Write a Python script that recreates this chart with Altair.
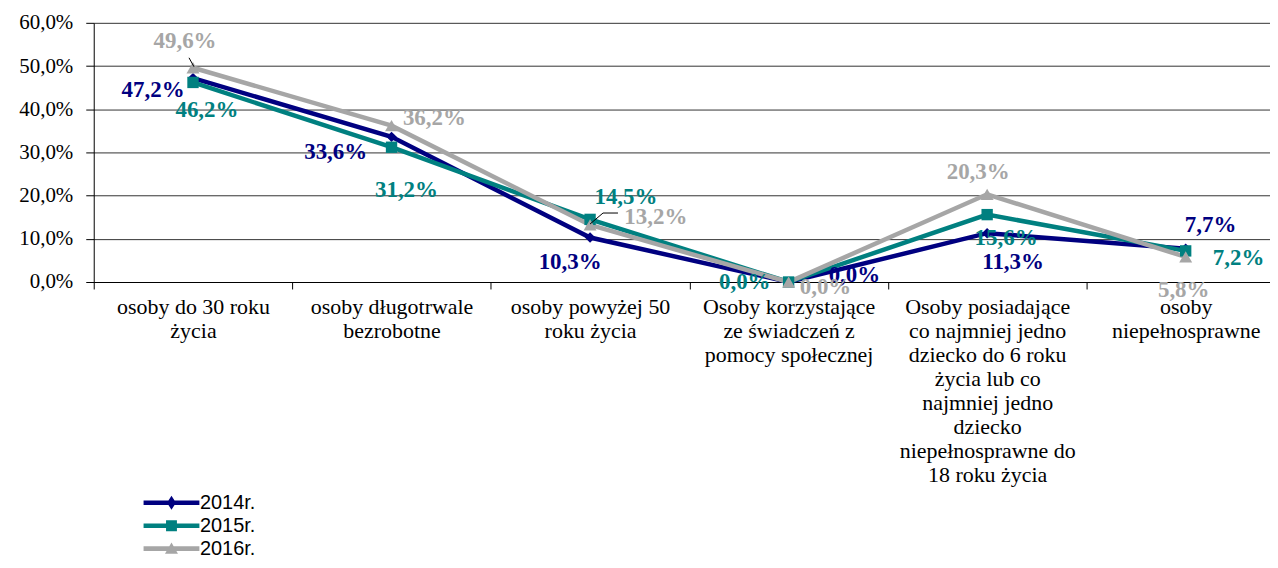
import json
import altair as alt
import pandas as pd

# ---------------- data ----------------
category_lines = [
    ["osoby do 30 roku", "życia"],
    ["osoby długotrwale", "bezrobotne"],
    ["osoby powyżej 50", "roku życia"],
    ["Osoby korzystające", "ze świadczeń z", "pomocy społecznej"],
    ["Osoby posiadające", "co najmniej jedno", "dziecko do 6 roku", "życia lub co",
     "najmniej jedno", "dziecko", "niepełnosprawne do", "18 roku życia"],
    ["osoby", "niepełnosprawne"],
]
categories = [" ".join(lines) for lines in category_lines]
series_names = ["2014r.", "2015r.", "2016r."]
values_2014 = [47.2, 33.6, 10.3, 0.0, 11.3, 7.7]
values_2015 = [46.2, 31.2, 14.5, 0.0, 15.6, 7.2]
values_2016 = [49.6, 36.2, 13.2, 0.0, 20.3, 5.8]
y_ticks = [0, 10, 20, 30, 40, 50, 60]

# ---------------- styles ----------------
colors = ["#000080", "#008080", "#A6A6A6"]
marker_shapes = ["diamond", "square", "triangle-up"]
marker_sizes = [110, 130, 170]

# label offsets (dx, dy) in pixels per series / category
label_offsets = {
    "2014r.": [(-40, 12), (-56, 15), (-20, 25), (66, -7), (26, 29), (25, -24)],
    "2015r.": [(14, 28), (15, 43), (36, -22), (-44, 0), (19, 23), (53, 7)],
    "2016r.": [(-8, -27), (43, -8), (66, -8), (37, 5), (-9, -22), (-2, 33)],
}
# leader lines: (series, category index, xOffset, yOffset, x2Offset, y2Offset)
leaders = [
    ("2016r.", 0, -4, -10, 1, -1),
    ("2016r.", 2, 0, -1, 13, -12),
    ("2016r.", 2, 13, -12, 28, -12),
]

# legend symbols: line segment + marker (custom paths)
legend_paths = [
    "M-2.667,-0.22H2.667V0.22H-2.667Z M0,-0.67L0.43,0L0,0.67L-0.43,0Z",
    "M-2.667,-0.22H2.667V0.22H-2.667Z M-0.52,-0.52H0.52V0.52H-0.52Z",
    "M-2.667,-0.22H2.667V0.22H-2.667Z M0,-0.6L0.62,0.48H-0.62Z",
]

rows = []
for s, vals in zip(series_names, [values_2014, values_2015, values_2016]):
    for i, (c, v) in enumerate(zip(categories, vals)):
        rows.append({"cat": c, "series": s, "value": v, "idx": i})
df = pd.DataFrame(rows)

serif = "'Liberation Serif', 'Times New Roman', Tinos, 'DejaVu Serif', serif"
sans = "'Liberation Sans', Arial, Arimo, sans-serif"

lines_js = json.dumps(category_lines, ensure_ascii=False)
cats_js = json.dumps(categories, ensure_ascii=False)
x_label_expr = f"{lines_js}[indexof({cats_js}, datum.value)]"

x_scale = alt.Scale(domain=categories, range=[0, 1195], paddingInner=0, paddingOuter=0)
y_scale = alt.Scale(domain=[0, 60], nice=False)

x_enc = alt.X(
    "cat:N",
    scale=x_scale,
    sort=categories,
    bandPosition=0.5,
    axis=alt.Axis(
        title=None,
        labelExpr=x_label_expr,
        labelFont=serif,
        labelFontSize=22,
        labelLineHeight=24,
        labelColor="black",
        labelAngle=0,
        labelPadding=8,
        labelLimit=400,
        tickBand="extent",
        tickSize=7,
        tickColor="black",
        domainColor="black",
        grid=False,
    ),
)
y_enc = alt.Y(
    "value:Q",
    scale=y_scale,
    axis=alt.Axis(
        title=None,
        values=y_ticks,
        labelExpr="replace(format(datum.value, '.1f'), '.', ',') + '%'",
        labelFont=serif,
        labelFontSize=21,
        labelColor="black",
        labelPadding=13,
        tickSize=8,
        tickColor="black",
        domainColor="black",
        gridColor="#333333",
        gridWidth=1,
    ),
)
color_scale = alt.Scale(domain=series_names, range=colors)
color_nolegend = alt.Color("series:N", scale=color_scale, legend=None)

base = alt.Chart(df)

legend_def = alt.Legend(
    title=None,
    orient="none",
    legendX=67.5,
    legendY=471,
    padding=0,
    symbolSize=441,
    symbolStrokeWidth=0,
    symbolOpacity=1,
    labelFont=sans,
    labelFontSize=20,
    labelColor="black",
    labelOffset=18,
    rowPadding=2,
)
# legend-only layer (first, so its legend settings win): no rows drawn,
# legend built from the explicit scale domains
legend_layer = base.transform_filter("false").mark_point(filled=True).encode(
    x=x_enc,
    y=y_enc,
    color=alt.Color("series:N", scale=color_scale, legend=legend_def),
    shape=alt.Shape("series:N", scale=alt.Scale(domain=series_names, range=legend_paths), legend=legend_def),
)

lines = base.mark_line(strokeWidth=4.5).encode(x=x_enc, y=y_enc, color=color_nolegend)

marker_layers = []
for s, shp, sz in zip(series_names, marker_shapes, marker_sizes):
    marker_layers.append(
        base.transform_filter(f"datum.series == '{s}'")
        .mark_point(filled=True, opacity=1, shape=shp, size=sz)
        .encode(x=x_enc, y=y_enc, color=color_nolegend)
    )

label_layers = []
for s in series_names:
    for i, (dx, dy) in enumerate(label_offsets[s]):
        label_layers.append(
            base.transform_filter(f"datum.series == '{s}' && datum.idx == {i}")
            .transform_calculate(lbl="replace(format(datum.value, '.1f'), '.', ',') + '%'")
            .mark_text(font=serif, fontSize=23, fontWeight="bold", align="center", baseline="middle", dx=dx, dy=dy)
            .encode(x=x_enc, y=y_enc, text="lbl:N", color=color_nolegend)
        )

leader_layers = []
for s, i, xo, yo, x2o, y2o in leaders:
    leader_layers.append(
        base.transform_filter(f"datum.series == '{s}' && datum.idx == {i}")
        .mark_rule(color="black", strokeWidth=1, xOffset=xo, yOffset=yo, x2Offset=x2o, y2Offset=y2o)
        .encode(
            x=x_enc,
            y=y_enc,
            x2=alt.X2("cat:N", bandPosition=0.5),
            y2=alt.Y2("value:Q"),
        )
    )

chart = (
    alt.layer(legend_layer, lines, *marker_layers, *leader_layers, *label_layers)
    .properties(
        width=1180,
        height=260,
        autosize=alt.AutoSizeParams(type="none"),
        padding={"left": 86, "top": 14, "right": 0, "bottom": 278},
        background="white",
    )
    .configure_view(strokeWidth=0)
)

chart.save("out.html", embed_options={"renderer": "svg", "actions": False})
